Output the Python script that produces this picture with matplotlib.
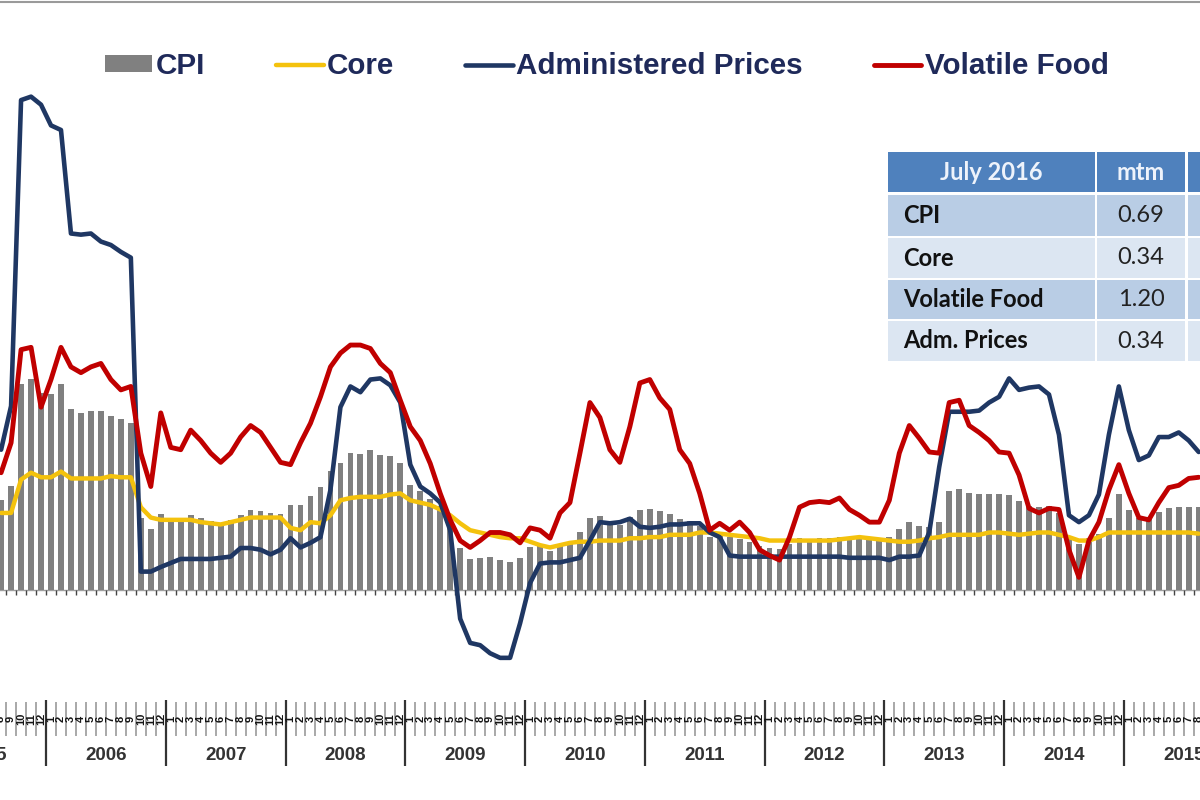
import matplotlib
matplotlib.use("Agg")
import matplotlib.pyplot as plt
import numpy as np
from matplotlib.patches import Rectangle

# ---------------- data (monthly, Aug 2005 .. Aug 2015, % yoy) ----------------
first_month_index = -5          # Aug 2005, with Jan 2006 = 0
cpi = [7.84, 9.06, 17.89, 18.38, 17.11,
       17.03, 17.92, 15.74, 15.40, 15.60, 15.53, 15.15, 14.90, 14.55, 6.29, 5.27, 6.60,
       6.26, 6.30, 6.52, 6.29, 6.01, 5.77, 6.06, 6.51, 6.95, 6.88, 6.71, 6.59,
       7.36, 7.40, 8.17, 8.96, 10.38, 11.03, 11.90, 11.85, 12.14, 11.77, 11.68, 11.06,
       9.17, 8.60, 7.92, 7.31, 6.04, 3.65, 2.71, 2.75, 2.83, 2.57, 2.41, 2.78,
       3.72, 3.81, 3.43, 3.91, 4.16, 5.05, 6.22, 6.44, 5.80, 5.67, 6.33, 6.96,
       7.02, 6.84, 6.65, 6.16, 5.98, 5.54, 4.61, 4.79, 4.61, 4.42, 4.15, 3.79,
       3.65, 3.56, 3.97, 4.50, 4.45, 4.53, 4.56, 4.58, 4.31, 4.61, 4.32, 4.30,
       4.57, 5.31, 5.90, 5.57, 5.47, 5.90, 8.61, 8.79, 8.40, 8.32, 8.37, 8.38,
       8.22, 7.75, 7.32, 7.25, 7.32, 6.70, 4.53, 3.99, 4.53, 4.83, 6.23, 8.36,
       6.96, 6.29, 6.38, 6.79, 7.15, 7.26, 7.26, 7.18]
core = [6.7, 6.7, 9.6, 10.2, 9.8,
        9.8, 10.3, 9.7, 9.7, 9.7, 9.7, 9.9, 9.8, 9.8, 7.2, 6.3, 6.1,
        6.1, 6.1, 6.1, 5.9, 5.8, 5.7, 5.9, 6.1, 6.3, 6.3, 6.3, 6.3,
        5.4, 5.2, 5.9, 5.8, 6.5, 7.8, 8.0, 8.1, 8.1, 8.1, 8.3, 8.4,
        7.8, 7.6, 7.4, 7.0, 6.5, 5.8, 5.2, 5.0, 4.8, 4.6, 4.5, 4.5,
        4.2, 3.9, 3.7, 3.9, 4.1, 4.2, 4.2, 4.3, 4.3, 4.3, 4.5, 4.5,
        4.6, 4.6, 4.8, 4.8, 4.8, 5.0, 5.0, 4.9, 4.8, 4.7, 4.6, 4.5,
        4.3, 4.3, 4.3, 4.3, 4.3, 4.3, 4.3, 4.4, 4.5, 4.6, 4.5, 4.4,
        4.3, 4.2, 4.2, 4.3, 4.5, 4.6, 4.8, 4.8, 4.8, 4.8, 5.0, 5.0,
        4.9, 4.8, 4.9, 5.0, 5.0, 4.8, 4.6, 4.3, 4.3, 4.6, 5.0, 5.0,
        5.0, 5.0, 5.0, 5.0, 5.0, 5.0, 5.0, 4.9]
administered = [12.2, 16.0, 42.6, 42.9, 42.2,
                40.4, 40.0, 31.0, 30.9, 31.0, 30.3, 30.0, 29.4, 28.9, 1.6, 1.6, 2.0,
                2.35, 2.7, 2.7, 2.7, 2.7, 2.8, 2.9, 3.65, 3.65, 3.5, 3.1, 3.5,
                4.5, 3.7, 4.1, 4.6, 8.7, 15.9, 17.7, 17.2, 18.3, 18.4, 17.8, 16.3,
                10.9, 9.0, 8.4, 7.6, 5.2, -2.5, -4.6, -4.8, -5.5, -5.9, -5.9, -2.9,
                0.6, 2.3, 2.4, 2.4, 2.6, 2.8, 4.3, 5.9, 5.8, 5.9, 6.2, 5.5,
                5.4, 5.5, 5.7, 5.7, 5.8, 5.8, 5.0, 4.6, 3.0, 2.9, 2.9, 2.9,
                2.9, 2.9, 2.9, 2.9, 2.9, 2.9, 2.9, 2.9, 2.8, 2.8, 2.8, 2.8,
                2.6, 2.9, 2.9, 3.0, 5.0, 10.7, 15.5, 15.5, 15.5, 15.6, 16.3, 16.8,
                18.4, 17.4, 17.6, 17.7, 17.0, 13.5, 6.5, 5.9, 6.5, 8.3, 13.5, 17.7,
                13.9, 11.3, 11.7, 13.3, 13.3, 13.7, 13.0, 12.0]
volatile_food = [10.2, 12.8, 20.9, 21.1, 15.9,
                 18.3, 21.1, 19.4, 18.9, 19.4, 19.7, 18.3, 17.4, 17.7, 11.9, 9.0, 15.4,
                 12.4, 12.2, 13.9, 13.0, 11.9, 11.1, 11.9, 13.3, 14.3, 13.7, 12.4, 11.1,
                 10.9, 12.8, 14.5, 16.8, 19.4, 20.6, 21.3, 21.3, 21.0, 19.7, 18.9, 16.5,
                 14.2, 13.0, 11.0, 8.4, 6.1, 4.3, 3.7, 4.3, 5.0, 5.0, 4.8, 4.1,
                 5.4, 5.2, 4.5, 6.7, 7.6, 11.9, 16.3, 15.0, 12.2, 11.1, 14.2, 18.0,
                 18.3, 16.7, 15.7, 12.2, 11.0, 8.4, 5.2, 5.8, 5.2, 5.9, 5.0, 3.5,
                 3.0, 2.6, 4.6, 7.2, 7.6, 7.7, 7.6, 8.0, 7.0, 6.5, 5.9, 5.9,
                 7.8, 11.9, 14.3, 13.2, 12.0, 11.9, 16.3, 16.5, 14.3, 13.7, 13.0, 12.0,
                 11.9, 10.0, 7.1, 6.7, 7.1, 7.0, 3.5, 1.1, 4.3, 5.9, 8.7, 10.9,
                 8.4, 6.3, 6.1, 7.6, 8.9, 9.1, 9.7, 9.8]
years = list(range(2005, 2016))
series_labels = ["CPI", "Core", "Administered Prices", "Volatile Food"]

table_header = ["July 2016", "mtm", ""]
table_rows = ["CPI", "Core", "Volatile Food", "Adm. Prices"]
table_mtm = ["0.69", "0.34", "1.20", "0.34"]

# ---------------- styling ----------------
C_BAR = "#808080"
C_CORE = "#f4c20d"
C_ADM = "#1f3763"
C_FOOD = "#c00000"
C_TEXT = "#1f2a5a"

W, H = 1200, 800
fig = plt.figure(figsize=(12, 8), dpi=100)
fig.patch.set_facecolor("white")
ax = fig.add_axes([0, 0, 1, 1])

X0, PX = 51.0, 9.98      # pixel of Jan 2006 centre, pixels per month
Y0, PY = 590.0, 11.5     # pixel of zero line, pixels per percentage point
ax.set_xlim(-X0 / PX, (W - X0) / PX)
ax.set_ylim(-(H - Y0) / PY, Y0 / PY)
ax.axis("off")

n = len(cpi)
x = np.arange(first_month_index, first_month_index + n)

bars = ax.bar(x, cpi, width=0.58, color=C_BAR, zorder=2, linewidth=0)
ax.axhline(0, color="#a0a0a0", lw=1, zorder=1)
bounds = np.arange(first_month_index - 0.5, first_month_index + n + 0.5)
ax.vlines(bounds, -0.45, 0, color="#444444", lw=1, zorder=1)

l_core, = ax.plot(x, core, color=C_CORE, lw=3.2, zorder=3,
                  solid_joinstyle="round", solid_capstyle="round")
l_adm, = ax.plot(x, administered, color=C_ADM, lw=3.3, zorder=4,
                 solid_joinstyle="round", solid_capstyle="round")
l_food, = ax.plot(x, volatile_food, color=C_FOOD, lw=3.5, zorder=5,
                  solid_joinstyle="round", solid_capstyle="round")

# ---------------- category axis at the bottom ----------------
trans = ax.get_xaxis_transform()
fy = lambda ypx: 1 - ypx / H
ax.vlines(bounds, fy(736), fy(702), transform=trans, color="#9a9a9a", lw=1.2)
for i in x:
    ax.text(i, fy(719), str((i % 12) + 1), rotation=90, ha="center", va="center",
            fontsize=8, fontweight="bold", color="#151515", transform=trans,
            family="Liberation Sans")
for k, yr in enumerate(years):
    start = (yr - 2006) * 12 - 0.5
    if yr >= 2006:
        ax.vlines([start], fy(766), fy(700), transform=trans, color="#333333", lw=1.6)
    ax.text(start + 6, fy(755), str(yr), ha="center", va="center", fontsize=13.5,
            fontweight="bold", color="#333333", transform=trans,
            family="Liberation Sans")

# ---------------- legend ----------------
fig.legend([bars, l_core, l_adm, l_food], series_labels,
           loc="center left", bbox_to_anchor=(105 / W, 1 - 66 / H), ncol=4,
           frameon=False, prop=dict(family="Liberation Sans", weight="bold", size=21.3),
           labelcolor=C_TEXT, handlelength=1.6, handleheight=0.5,
           handletextpad=0.12, columnspacing=2.4, borderpad=0, borderaxespad=0)

# ---------------- table (overlay in pixel space) ----------------
tax = fig.add_axes([0, 0, 1, 1], zorder=10)
tax.set_xlim(0, W)
tax.set_ylim(H, 0)
tax.axis("off")
tax.plot([0, W], [1.5, 1.5], color="#9a9a9a", lw=1.5)

cols = [(888, 1095), (1097, 1185), (1188, 1270)]
rows = [(152, 192), (195, 236), (238, 278), (280, 319), (321, 361)]
row_colors = ["#4f81bd", "#b9cde5", "#dce6f2", "#b9cde5", "#dce6f2"]
for r, (y0, y1) in enumerate(rows):
    for (x0, x1) in cols:
        tax.add_patch(Rectangle((x0, y0), x1 - x0, y1 - y0,
                                facecolor=row_colors[r], edgecolor="none"))
tfont = dict(family="Lato", size=17)
for c, txt in enumerate(table_header):
    x0, x1 = cols[c]
    tax.text((x0 + x1) / 2, (rows[0][0] + rows[0][1]) / 2, txt, ha="center",
             va="center", color="#eef3fb", fontweight="bold", **tfont)
for r, (lab, val) in enumerate(zip(table_rows, table_mtm), start=1):
    yc = (rows[r][0] + rows[r][1]) / 2
    tax.text(903, yc, lab, ha="left", va="center", color="#111111",
             fontweight="bold", **tfont)
    tax.text((cols[1][0] + cols[1][1]) / 2, yc, val, ha="center", va="center",
             color="#222222", **tfont)

fig.savefig("out.png", dpi=100, facecolor="white")
